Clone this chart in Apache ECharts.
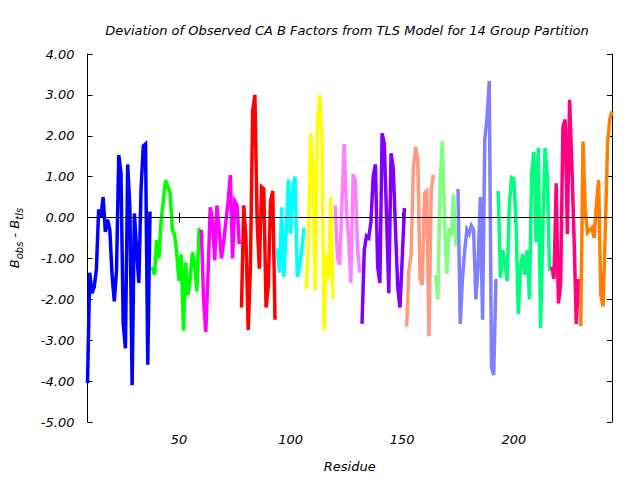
<!DOCTYPE html>
<html>
<head>
<meta charset="utf-8">
<script src="https://cdn.jsdelivr.net/npm/echarts@6/dist/echarts.min.js"></script>
<style>html,body{margin:0;padding:0;background:#fff}#chart{width:640px;height:480px}</style>
</head>
<body>
<div id="chart"></div>
<script>
// First residue of each TLS group
const groupStart = [9, 38, 60, 78, 94, 107, 120, 132, 152, 165, 175, 193, 217, 230];
const groupColors = ['#0000ff','#00ff00','#ff00ff','#ff0000','#00ffff','#ffff00','#ff80ff','#8000ff','#ff9980','#80ff80','#8080ff','#00ff80','#ff0080','#ff8000'];
// B_obs - B_tls per residue, one array per group
const group1 = [-4.05,-1.35,-1.85,-1.7,-1.25,0.2,0.0,0.5,-0.35,-0.05,-0.3,-1.4,-2.05,-1.3,1.53,1.1,-2.6,-3.2,1.3,0.2,-4.1,0.1,-0.8,-1.6,0.7,1.75,1.8,-3.6,0.15];
const group2 = [-1.2,-1.4,-0.55,-1.0,-0.05,0.43,0.92,0.75,0.6,-0.3,-0.4,-0.9,-1.55,-0.9,-2.77,-1.1,-1.9,-1.5,-0.85,-1.1,-1.8,-0.25];
const group3 = [-0.3,-2.0,-2.8,-1.4,0.25,-0.05,-1.05,0.3,-0.3,-1.0,-0.6,-0.1,0.4,1.04,-1.0,0.4,0.3,-0.65];
const group4 = [-2.2,0.3,-0.5,-2.75,-1.2,2.6,3.0,-0.1,-1.25,0.75,0.7,-2.2,-1.7,0.4,0.65,-2.5];
const group5 = [-0.75,-1.35,0.25,-1.45,-0.4,0.93,-0.4,0.75,1.0,-1.45,-1.2,-0.8,-0.25];
const group6 = [-1.75,-0.4,2.06,1.3,-1.77,2.35,3.0,2.0,-2.75,-0.9,-1.5,0.5,-1.97];
const group7 = [0.3,-1.0,-1.15,0.35,1.8,0.2,-0.5,-1.6,1.06,0.9,-0.8,-1.35];
const group8 = [-2.6,-0.8,-0.45,-0.5,-0.1,1.0,1.3,-1.2,-1.6,2.06,1.8,0.0,-1.85,1.57,1.2,-0.3,-1.7,-2.2,-1.0,0.23];
const group9 = [-2.66,-1.3,-0.9,1.2,1.73,1.4,-1.5,-1.65,0.6,0.65,-2.9,0.68,1.05];
const group10 = [-1.4,-2.0,0.9,1.87,-0.1,-1.38,-0.25,-0.45,0.57,-0.7];
const group11 = [0.7,-2.6,-1.5,-0.8,-0.3,-0.4,-0.2,-0.3,-2.0,-1.2,0.5,-2.5,1.9,2.45,3.34,-3.67,-3.85,-1.5];
const group12 = [0.65,-1.47,-0.8,-1.1,-1.55,0.3,0.98,0.95,-0.1,-2.36,-1.2,-0.9,-1.4,-0.8,-2.0,1.1,1.6,-0.6,1.7,-2.7,-0.3,1.7,1.0,-1.3];
const group13 = [-1.2,-1.5,0.84,-2.1,-1.6,2.2,2.4,-0.4,2.88,1.3,-0.5,-2.6,-1.5];
const group14 = [-2.66,1.86,0.2,-0.37,-0.3,-0.25,-0.5,0.3,0.92,-1.9,-2.17,-0.3,1.8,2.4,2.6];
const groups = [group1,group2,group3,group4,group5,group6,group7,group8,group9,group10,group11,group12,group13,group14];
const xTicks = [50, 100, 150, 200];
const residueMin = 9, residueMax = 244;
const yMin = -5, yMax = 4;

const font = 'DejaVu Sans';
const fs = 13;
const series = groups.map((vals, gi) => ({
  type: 'line',
  data: vals.map((v, i) => [groupStart[gi] + i, v]),
  showSymbol: false,
  symbol: 'none',
  lineStyle: { color: groupColors[gi], width: 3.5, join: 'miter', cap: 'butt' },
  itemStyle: { color: groupColors[gi] },
  z: 3,
  animation: false,
  silent: true
}));
series[0].markLine = {
  silent: true, symbol: 'none', label: { show: false },
  lineStyle: { color: '#000', width: 1, type: 'solid' },
  data: [{ yAxis: 0 }], animation: false
};

const chart = echarts.init(document.getElementById('chart'), null, { renderer: 'svg' });
chart.setOption({
  backgroundColor: '#fff',
  animation: false,
  title: {
    text: 'Deviation of Observed CA B Factors from TLS Model for 14 Group Partition',
    left: 342, top: 19, textAlign: 'center',
    textStyle: { fontFamily: font, fontStyle: 'italic', fontWeight: 'normal', fontSize: fs, color: '#000' }
  },
  grid: { left: 85, right: 28, top: 54, bottom: 58 },
  xAxis: [{
    type: 'value', min: residueMin, max: residueMax,
    name: 'Residue', nameLocation: 'middle', nameGap: 38,
    nameTextStyle: { fontFamily: font, fontStyle: 'italic', fontSize: fs, color: '#000' },
    axisLine: { lineStyle: { color: '#000', width: 1 } },
    axisTick: { inside: true, length: 5, customValues: xTicks, lineStyle: { color: '#000' } },
    axisLabel: { customValues: xTicks, margin: 11, fontFamily: font, fontStyle: 'italic', fontSize: fs, color: '#000' },
    splitLine: { show: false }
  }, {
    type: 'value', position: 'top', min: residueMin, max: residueMax,
    axisLine: { show: true, lineStyle: { color: '#000', width: 1 } },
    axisTick: { inside: true, length: 5, customValues: xTicks, lineStyle: { color: '#000' } },
    axisLabel: { show: false }, splitLine: { show: false }
  }],
  yAxis: [{
    type: 'value', min: yMin, max: yMax, interval: 1,
    name: '{b|B}{s|obs}{b| - B}{s|tls}', nameLocation: 'middle', nameGap: 63, nameRotate: 90,
    nameTextStyle: {
      fontFamily: font, fontStyle: 'italic', fontSize: fs, color: '#000',
      rich: {
        b: { fontFamily: font, fontStyle: 'italic', fontSize: 13, color: '#000', lineHeight: 20, verticalAlign: 'middle' },
        s: { fontFamily: font, fontStyle: 'italic', fontSize: 10, color: '#000', lineHeight: 20, verticalAlign: 'bottom' }
      }
    },
    axisLine: { show: true, lineStyle: { color: '#000', width: 1 } },
    axisTick: { inside: true, length: 5, lineStyle: { color: '#000' } },
    axisLabel: { margin: 13, formatter: v => v.toFixed(2), fontFamily: font, fontStyle: 'italic', fontSize: fs, color: '#000' },
    splitLine: { show: false }
  }, {
    type: 'value', position: 'right', min: yMin, max: yMax, interval: 1,
    axisLine: { show: true, lineStyle: { color: '#000', width: 1 } },
    axisTick: { inside: true, length: 5, lineStyle: { color: '#000' } },
    axisLabel: { show: false }, splitLine: { show: false }
  }],
  series: series
});
</script>
</body>
</html>
